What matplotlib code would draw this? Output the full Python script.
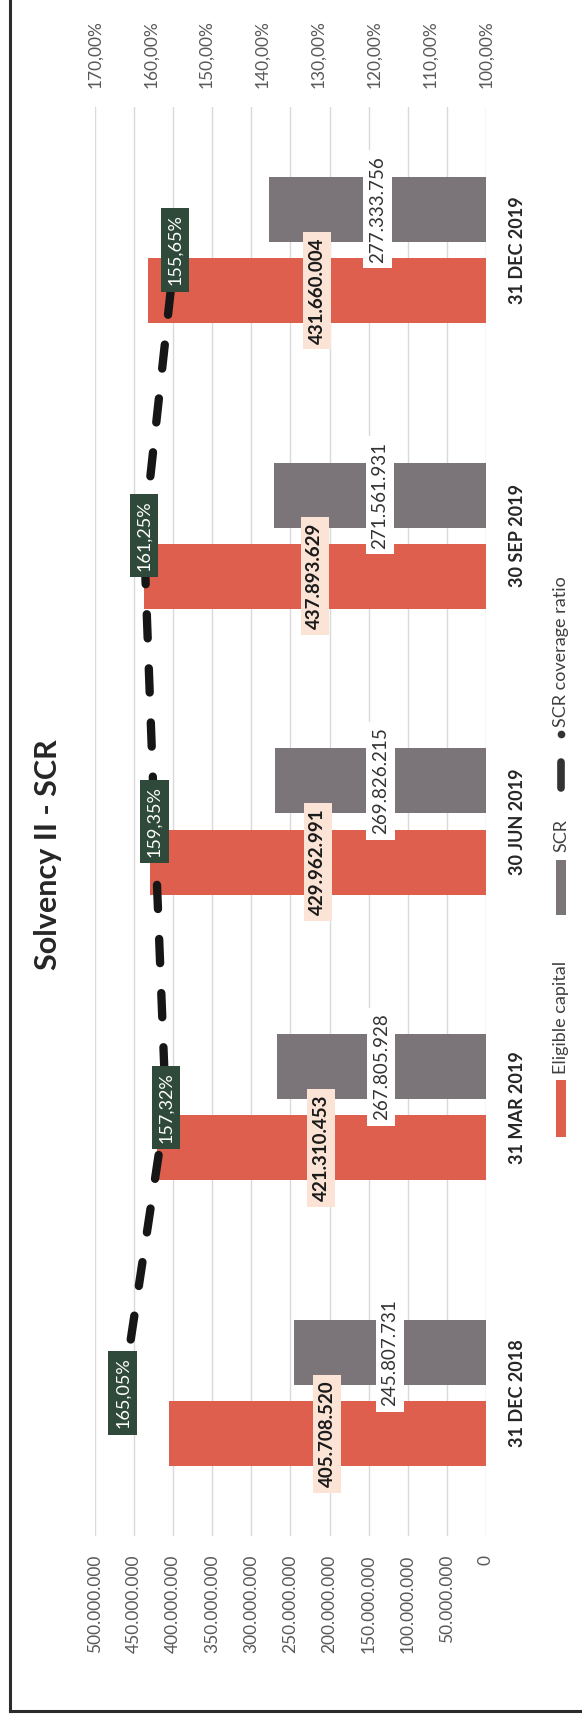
import matplotlib.pyplot as plt
from matplotlib.lines import Line2D
from matplotlib.patches import Rectangle
import numpy as np

plt.rcParams['font.family'] = ['Lato', 'DejaVu Sans']

daty = ['31 DEC 2018', '31 MAR 2019', '30 JUN 2019', '30 SEP 2019', '31 DEC 2019']
kapital = [405708520, 421310453, 429962991, 437893629, 431660004]
scr = [245807731, 267805928, 269826215, 271561931, 277333756]
wskaznik = [165.05, 157.32, 159.35, 161.25, 155.65]
osie_kwoty = [0, 50e6, 100e6, 150e6, 200e6, 250e6, 300e6, 350e6, 400e6, 450e6, 500e6]
osie_proc = [100, 110, 120, 130, 140, 150, 160, 170]

czerwony = '#de5f4d'
szary = '#7b7479'

W, H = 582, 1725
fx = lambda x: x / W
fy = lambda y: 1 - y / H


def kropki(v):
    return f'{v:,.0f}'.replace(',', '.')


fig = plt.figure(figsize=(W / 100, H / 100), dpi=100)
ax = fig.add_axes([fx(95), fy(1536), 391 / W, 1429 / H])

poz = np.arange(len(daty))
przes = 0.142
h = 0.227
ax.barh(poz - przes, kapital, height=h, color=czerwony, zorder=2)
ax.barh(poz + przes, scr, height=h, color=szary, zorder=2)

ax.set_xlim(500e6, 0)
ax.set_ylim(-0.5, 4.5)
ax.set_xticks(osie_kwoty)
ax.set_xticklabels([kropki(v) for v in osie_kwoty], rotation=90, fontsize=12.5, color='#595959')
ax.tick_params(axis='x', length=0, pad=13.5)
ax.yaxis.tick_right()
ax.set_yticks(poz)
ax.set_yticklabels(daty, rotation=90, va='center', fontsize=13, fontweight='bold', color='#262626')
ax.tick_params(axis='y', length=0, pad=16.5)
ax.grid(axis='x', color='#d9d9d9', lw=1)
ax.set_axisbelow(True)
for s in ax.spines.values():
    s.set_visible(False)

# etykiety wartosci
for p, k in zip(poz, kapital):
    ax.text(k / 2, p - przes, kropki(k), rotation=90, ha='center', va='center',
            fontsize=13.5, fontweight='bold', color='#1a1a1a', zorder=4,
            bbox=dict(boxstyle='square,pad=0.3', fc='#fbe3d5', ec='none'))
for p, s in zip(poz, scr):
    ax.text(s / 2, p + przes, kropki(s), rotation=90, ha='center', va='center',
            fontsize=13.5, color='#333333', zorder=4,
            bbox=dict(boxstyle='square,pad=0.3', fc='white', ec='none'))

# druga os - wskaznik pokrycia
ax2 = ax.twiny()
ax2.set_xlim(170, 100)
ax2.set_ylim(-0.5, 4.5)
ax2.set_xticks(osie_proc)
ax2.set_xticklabels([f'{v},00%' for v in osie_proc], rotation=90, fontsize=12.5, color='#595959')
ax2.tick_params(axis='x', length=0, pad=14)
for s in ax2.spines.values():
    s.set_visible(False)

linia, = ax2.plot(wskaznik, poz, color='#161616', lw=6, dash_capstyle='round', zorder=3)
linia.set_dashes((2.9, 3.6))
for p, w in zip(poz, wskaznik):
    ax2.text(w, p, f'{w:.2f}%'.replace('.', ','), rotation=90, ha='center', va='center',
             fontsize=13, color='white', zorder=5,
             bbox=dict(boxstyle='square,pad=0.35', fc='#2f4a3a', ec='none'))

# tytul
fig.text(fx(48), fy(855), 'Solvency II - SCR', rotation=90, ha='center', va='center',
         fontsize=22, fontweight='bold', color='#262626')

# legenda
fig.add_artist(Rectangle((fx(556), fy(1137)), 10 / W, 57 / H, transform=fig.transFigure,
                         fc=czerwony, ec='none'))
fig.text(fx(561), fy(1074), 'Eligible capital', rotation=90, ha='center', va='bottom',
         fontsize=13, color='#404040')
fig.add_artist(Rectangle((fx(556), fy(915)), 10 / W, 55 / H, transform=fig.transFigure,
                         fc=szary, ec='none'))
fig.text(fx(561), fy(852), 'SCR', rotation=90, ha='center', va='bottom',
         fontsize=13, color='#404040')
fig.add_artist(Line2D([fx(561), fx(561)], [fy(788), fy(762)], transform=fig.transFigure,
                      lw=5.5, color='#333333', solid_capstyle='round'))
fig.add_artist(Line2D([fx(561)], [fy(734)], transform=fig.transFigure,
                      marker='o', ms=4.5, color='#333333'))
fig.text(fx(561), fy(727), 'SCR coverage ratio', rotation=90, ha='center', va='bottom',
         fontsize=13, color='#404040')

# ramka
fig.add_artist(Line2D([fx(10), fx(10)], [fy(0), fy(1711)], transform=fig.transFigure,
                      lw=2.2, color='#2b2b2b'))
fig.add_artist(Line2D([fx(10), 1], [fy(1711), fy(1711)], transform=fig.transFigure,
                      lw=2.2, color='#2b2b2b'))

plt.savefig('out.png', dpi=100)
